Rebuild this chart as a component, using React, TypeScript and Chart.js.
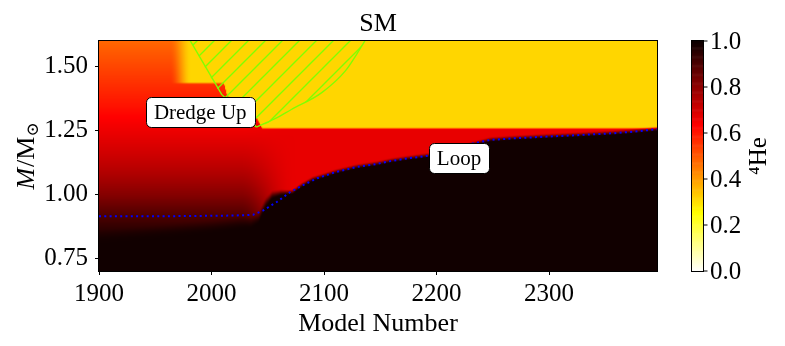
import React, { useEffect, useRef } from "react";
import { Chart, registerables } from "chart.js";

Chart.register(...registerables);

// ---------------- data ----------------
const TITLE = "SM";
const X_TITLE = "Model Number";
const CB_TITLE = "⁴He";

const MODEL_MIN = 1900;
const MODEL_MAX = 2396;
const MASS_MIN = 0.7;
const MASS_MAX = 1.6;

const X_TICKS = [1900, 2000, 2100, 2200, 2300];
const Y_TICKS = [0.75, 1.0, 1.25, 1.5];
const CB_TICKS = [0.0, 0.2, 0.4, 0.6, 0.8, 1.0];

// blue dotted line (edge of the helium core)
const LOOP_MODELS = [1900, 1940, 1980, 2020, 2037, 2046, 2058, 2070, 2081, 2094, 2111, 2129, 2147, 2160, 2175, 2194, 2210, 2228, 2248, 2268, 2298, 2327, 2357, 2375, 2396];
const LOOP_MASS = [0.914, 0.914, 0.915, 0.917, 0.92, 0.937, 0.97, 1.009, 1.035, 1.063, 1.088, 1.107, 1.119, 1.131, 1.141, 1.152, 1.17, 1.195, 1.213, 1.219, 1.226, 1.232, 1.239, 1.245, 1.255];

// top of the dark (He ~ 1) core region
const CORE_MODELS = [1900, 1960, 2000, 2035, 2042, 2048, 2054, 2062, 2072, 2080, 2090, 2100, 2111, 2129, 2147, 2160, 2175, 2194, 2248, 2268, 2298, 2327, 2357, 2375, 2396];
const CORE_MASS = [0.805, 0.83, 0.848, 0.868, 0.89, 0.95, 0.985, 0.998, 1.003, 1.03, 1.055, 1.068, 1.084, 1.103, 1.115, 1.127, 1.137, 1.148, 1.209, 1.215, 1.222, 1.228, 1.235, 1.241, 1.25];
const CORE_HE = 0.99;

// He-4 profile of the envelope on the early (left) side
const ENV_MASS = [0.8, 0.85, 0.9, 0.95, 1.0, 1.05, 1.1, 1.15, 1.2, 1.25, 1.3, 1.35, 1.4, 1.45, 1.5, 1.55, 1.6];
const ENV_HE = [0.985, 0.96, 0.915, 0.865, 0.815, 0.775, 0.74, 0.71, 0.685, 0.66, 0.635, 0.605, 0.58, 0.555, 0.53, 0.505, 0.48];
// He-4 in the red shell layer on the late (right) side
const SHELL_HE = 0.67;
const SHELL_BLEND_MODELS = [2025, 2075];

// convective envelope (yellow) base, its He-4 and the soft onset
const CONV_MODELS = [1900, 1959, 1960, 2011, 2014, 2030, 2040, 2045, 2396];
const CONV_BASE = [1.7, 1.7, 1.435, 1.435, 1.385, 1.33, 1.3, 1.258, 1.258];
const CONV_HE = 0.315;
const CONV_ONSET_MODELS = [1963, 1982];

// hatched dredge-up zone outline
const DREDGE_MODELS = [1981, 2009, 2040, 2056, 2071, 2098, 2119, 2129, 2136.5];
const DREDGE_MASS = [1.602, 1.391, 1.263, 1.295, 1.332, 1.398, 1.483, 1.548, 1.602];

// text annotations
const LABEL_TEXTS = ["Dredge Up", "Loop"];
const LABEL_MODELS = [1990, 2220];
const LABEL_MASS = [1.321, 1.142];

// ---------------- helpers ----------------
const FONT = "'Liberation Serif', 'DejaVu Serif', serif";
const GREEN = "#80ff00";

function table(xs: number[], ys: number[], x: number): number {
  if (x <= xs[0]) return ys[0];
  const n = xs.length;
  if (x >= xs[n - 1]) return ys[n - 1];
  for (let i = 1; i < n; i++) {
    if (x <= xs[i]) {
      const f = (x - xs[i - 1]) / (xs[i] - xs[i - 1]);
      return ys[i - 1] + f * (ys[i] - ys[i - 1]);
    }
  }
  return ys[n - 1];
}
function smooth(e0: number, e1: number, x: number) {
  let t = (x - e0) / (e1 - e0);
  t = Math.max(0, Math.min(1, t));
  return t * t * (3 - 2 * t);
}

function heAt(model: number, mass: number): number {
  const u = smooth(SHELL_BLEND_MODELS[0], SHELL_BLEND_MODELS[1], model);
  let v = table(ENV_MASS, ENV_HE, mass) * (1 - u) + SHELL_HE * u;
  const base = table(CONV_MODELS, CONV_BASE, model);
  const wh = smooth(CONV_ONSET_MODELS[0], CONV_ONSET_MODELS[1], model);
  const w = smooth(base - 0.006, base + 0.006, mass) * wh;
  v = v * (1 - w) + CONV_HE * w;
  const core = table(CORE_MODELS, CORE_MASS, model);
  const width = 0.06 * (1 - u) + 0.018 * u;
  const wc = smooth(core - 0.004, core + width, mass);
  return CORE_HE * (1 - wc) + v * wc;
}

// matplotlib "hot_r"
function hotR(v: number): [number, number, number] {
  const t = 1 - Math.max(0, Math.min(1, v));
  const a = 0.365079, b = 0.746032;
  const r = t < a ? 0.0416 + (1 - 0.0416) * (t / a) : 1;
  const g = t < a ? 0 : t < b ? (t - a) / (b - a) : 1;
  const bl = t < b ? 0 : (t - b) / (1 - b);
  return [Math.round(r * 255), Math.round(g * 255), Math.round(bl * 255)];
}

let fieldCache: HTMLCanvasElement | null = null;
function fieldImage(): HTMLCanvasElement {
  if (fieldCache) return fieldCache;
  const dm = 1; // models per cell
  const dM = 0.0025; // mass per cell
  const cols = Math.round((MODEL_MAX - MODEL_MIN) / dm);
  const rows = Math.round((MASS_MAX - MASS_MIN) / dM);
  const c = document.createElement("canvas");
  c.width = cols;
  c.height = rows;
  const g = c.getContext("2d")!;
  const img = g.createImageData(cols, rows);
  for (let j = 0; j < rows; j++) {
    const mass = MASS_MAX - (j + 0.5) * dM;
    for (let i = 0; i < cols; i++) {
      const model = MODEL_MIN + (i + 0.5) * dm;
      const [r, gg, b] = hotR(heAt(model, mass));
      const k = (j * cols + i) * 4;
      img.data[k] = r;
      img.data[k + 1] = gg;
      img.data[k + 2] = b;
      img.data[k + 3] = 255;
    }
  }
  g.putImageData(img, 0, 0);
  fieldCache = c;
  return c;
}

function makeHatch(): CanvasPattern | string {
  const s = 17;
  const c = document.createElement("canvas");
  c.width = s;
  c.height = s;
  const g = c.getContext("2d")!;
  g.strokeStyle = GREEN;
  g.lineWidth = 1.4;
  g.beginPath();
  g.moveTo(-2, s + 2);
  g.lineTo(s + 2, -2);
  g.moveTo(-2, 2);
  g.lineTo(2, -2);
  g.moveTo(s - 2, s + 2);
  g.lineTo(s + 2, s - 2);
  g.stroke();
  return g.createPattern(c, "repeat") || "transparent";
}

function roundRect(ctx: CanvasRenderingContext2D, x: number, y: number, w: number, h: number, r: number) {
  ctx.beginPath();
  ctx.moveTo(x + r, y);
  ctx.lineTo(x + w - r, y);
  ctx.arcTo(x + w, y, x + w, y + r, r);
  ctx.lineTo(x + w, y + h - r);
  ctx.arcTo(x + w, y + h, x + w - r, y + h, r);
  ctx.lineTo(x + r, y + h);
  ctx.arcTo(x, y + h, x, y + h - r, r);
  ctx.lineTo(x, y + r);
  ctx.arcTo(x, y, x + r, y, r);
  ctx.closePath();
}

const fieldPlugin = {
  id: "heField",
  beforeDatasetsDraw(chart: any) {
    const { ctx, chartArea, scales } = chart;
    const xs = scales.x, ys = scales.y;
    const x0 = xs.getPixelForValue(MODEL_MIN);
    const x1 = xs.getPixelForValue(MODEL_MAX);
    const y0 = ys.getPixelForValue(MASS_MAX);
    const y1 = ys.getPixelForValue(MASS_MIN);
    ctx.save();
    ctx.beginPath();
    ctx.rect(chartArea.left, chartArea.top, chartArea.right - chartArea.left, chartArea.bottom - chartArea.top);
    ctx.clip();
    ctx.imageSmoothingEnabled = true;
    ctx.drawImage(fieldImage(), x0, y0, x1 - x0, y1 - y0);
    ctx.restore();
  },
  afterDatasetsDraw(chart: any) {
    const { ctx, chartArea, scales } = chart;
    const xs = scales.x, ys = scales.y, cb = scales.cb;
    const { left, right, top, bottom } = chartArea;

    // annotation boxes
    ctx.save();
    ctx.font = `21px ${FONT}`;
    ctx.textAlign = "center";
    ctx.textBaseline = "middle";
    LABEL_TEXTS.forEach((t, i) => {
      const cx = xs.getPixelForValue(LABEL_MODELS[i]);
      const cy = ys.getPixelForValue(LABEL_MASS[i]);
      const w = ctx.measureText(t).width + 16;
      const h = 30;
      roundRect(ctx, Math.round(cx - w / 2) + 0.5, Math.round(cy - h / 2) + 0.5, Math.round(w), h, 5);
      ctx.fillStyle = "#ffffff";
      ctx.fill();
      ctx.strokeStyle = "#000000";
      ctx.lineWidth = 1;
      ctx.stroke();
      ctx.fillStyle = "#000000";
      ctx.fillText(t, cx, cy + 1);
    });
    ctx.restore();

    // frame
    ctx.save();
    ctx.strokeStyle = "#000";
    ctx.lineWidth = 1;
    ctx.strokeRect(left - 0.5, top - 0.5, right - left + 1, bottom - top + 1);
    ctx.restore();

    // colorbar
    const cbL = right + 35;
    const cbW = 11;
    ctx.save();
    const steps = 256;
    for (let k = 0; k < steps; k++) {
      const ya = cb.getPixelForValue(k / steps);
      const yb = cb.getPixelForValue((k + 1) / steps);
      const [r, g, b] = hotR((k + 0.5) / steps);
      ctx.fillStyle = `rgb(${r},${g},${b})`;
      ctx.fillRect(cbL, Math.min(ya, yb), cbW, Math.abs(yb - ya) + 0.6);
    }
    const cTop = cb.getPixelForValue(1);
    const cBot = cb.getPixelForValue(0);
    ctx.strokeStyle = "#000";
    ctx.lineWidth = 1;
    ctx.strokeRect(cbL - 0.5, cTop - 0.5, cbW + 1, cBot - cTop + 1);
    ctx.font = `25px ${FONT}`;
    ctx.fillStyle = "#000";
    ctx.textAlign = "left";
    ctx.textBaseline = "middle";
    CB_TICKS.forEach((v) => {
      const y = Math.round(cb.getPixelForValue(v));
      ctx.beginPath();
      ctx.moveTo(cbL + cbW + 0.5, y);
      ctx.lineTo(cbL + cbW + 4.5, y);
      ctx.stroke();
      ctx.fillText(v.toFixed(1), cbL + cbW + 7, y + 1);
    });
    // colorbar title
    ctx.save();
    ctx.translate(right + 101, (cTop + cBot) / 2);
    ctx.rotate(-Math.PI / 2);
    ctx.textAlign = "center";
    ctx.textBaseline = "alphabetic";
    ctx.font = `25px ${FONT}`;
    ctx.fillText(CB_TITLE, 0, 8);
    ctx.restore();
    ctx.restore();

    // titles
    ctx.save();
    ctx.fillStyle = "#000";
    ctx.textAlign = "center";
    ctx.textBaseline = "alphabetic";
    const cx = (left + right) / 2;
    ctx.font = `26px ${FONT}`;
    ctx.fillText(TITLE, cx, 31);
    ctx.fillText(X_TITLE, cx, 331);
    // y title: M/M_sun
    ctx.translate(25, (top + bottom) / 2);
    ctx.rotate(-Math.PI / 2);
    ctx.textAlign = "left";
    const fI = `italic 26px ${FONT}`;
    const fR = `26px ${FONT}`;
    const fS = `17px 'DejaVu Serif', 'DejaVu Sans', serif`;
    ctx.font = fI;
    const w1 = ctx.measureText("M").width + 1;
    ctx.font = fR;
    const w2 = ctx.measureText("/M").width;
    ctx.font = fS;
    const w3 = ctx.measureText("⊙").width;
    let x = -(w1 + w2 + w3) / 2;
    ctx.font = fI;
    ctx.fillText("M", x, 9);
    x += w1;
    ctx.font = fR;
    ctx.fillText("/M", x, 9);
    x += w2;
    ctx.font = fS;
    ctx.fillText("⊙", x, 13);
    ctx.restore();
  },
};

export default function App() {
  const ref = useRef<HTMLCanvasElement | null>(null);
  useEffect(() => {
    if (!ref.current) return;
    const hatch = makeHatch();
    const dredgeLeft = DREDGE_MODELS.slice(0, 3).map((m, i) => ({ x: m, y: DREDGE_MASS[i] }));
    const dredgeRight = DREDGE_MODELS.slice(2).map((m, i) => ({ x: m, y: DREDGE_MASS[i + 2] }));
    const chart = new Chart(ref.current, {
      type: "line",
      data: {
        datasets: [
          {
            label: "Loop",
            data: LOOP_MODELS.map((m, i) => ({ x: m, y: LOOP_MASS[i] })),
            borderColor: "#0000ff",
            borderWidth: 2,
            borderDash: [2, 3.3],
            fill: false,
            pointRadius: 0,
            tension: 0,
          },
          {
            label: "Dredge Up edge (left)",
            data: dredgeLeft,
            borderColor: GREEN,
            borderWidth: 1.4,
            fill: false,
            pointRadius: 0,
            tension: 0,
          },
          {
            label: "Dredge Up edge (right)",
            data: dredgeRight,
            borderColor: GREEN,
            borderWidth: 1.4,
            fill: false,
            pointRadius: 0,
            cubicInterpolationMode: "monotone",
          },
          {
            label: "Dredge Up",
            data: DREDGE_MODELS.map((m, i) => ({ x: m, y: DREDGE_MASS[i] })),
            borderWidth: 0,
            borderColor: "rgba(0,0,0,0)",
            backgroundColor: hatch as any,
            fill: "shape",
            pointRadius: 0,
            cubicInterpolationMode: "monotone",
          },
        ],
      },
      options: {
        responsive: false,
        animation: false,
        events: [],
        layout: { padding: { left: 0, right: 128, top: 41, bottom: 0 } },
        plugins: {
          legend: { display: false },
          tooltip: { enabled: false },
          title: { display: false },
        },
        scales: {
          x: {
            type: "linear",
            min: MODEL_MIN,
            max: MODEL_MAX,
            afterFit(s: any) {
              s.height = 75;
            },
            afterBuildTicks(s: any) {
              s.ticks = X_TICKS.map((v) => ({ value: v }));
            },
            ticks: {
              font: { family: FONT, size: 25 },
              color: "#000",
              padding: 4,
              maxRotation: 0,
              autoSkip: false,
              callback: (v: any) => String(v),
            },
            grid: { drawOnChartArea: false, drawTicks: true, tickLength: 4, color: "#000" },
            border: { display: true, color: "#000" },
          },
          y: {
            type: "linear",
            min: MASS_MIN,
            max: MASS_MAX,
            afterFit(s: any) {
              s.width = 99;
            },
            afterBuildTicks(s: any) {
              s.ticks = Y_TICKS.map((v) => ({ value: v }));
            },
            ticks: {
              font: { family: FONT, size: 25 },
              color: "#000",
              padding: 7,
              autoSkip: false,
              callback: (v: any) => Number(v).toFixed(2),
            },
            grid: { drawOnChartArea: false, drawTicks: true, tickLength: 4, color: "#000" },
            border: { display: true, color: "#000" },
          },
          cb: {
            type: "linear",
            position: "right",
            min: 0,
            max: 1,
            display: false,
          },
        },
      } as any,
      plugins: [fieldPlugin as any],
    });
    return () => chart.destroy();
  }, []);
  return (
    <div style={{ position: "fixed", left: 0, top: 0, width: 785, height: 346, background: "#fff" }}>
      <canvas ref={ref} width={785} height={346} style={{ width: 785, height: 346, display: "block" }} />
    </div>
  );
}
